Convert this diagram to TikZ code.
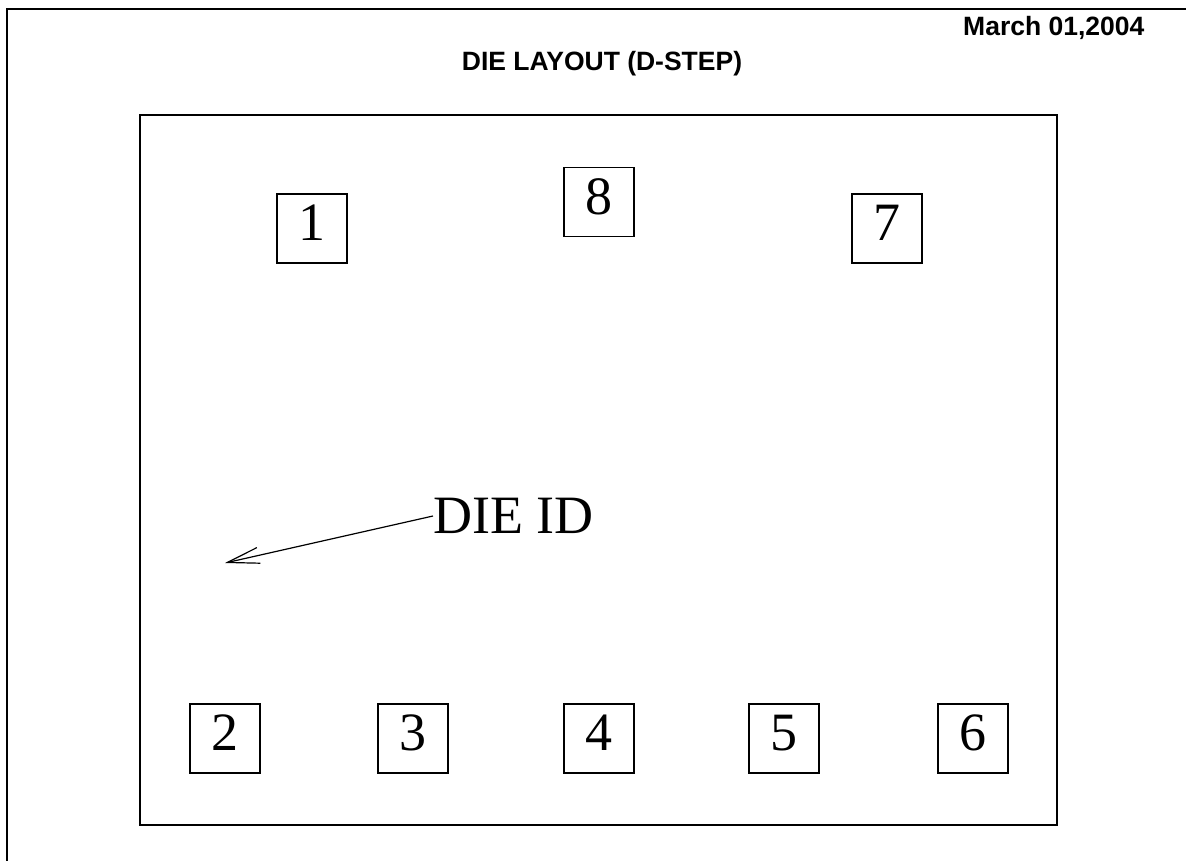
\documentclass[tikz,border=0pt]{standalone}
\usepackage{fontspec}
\setmainfont{Liberation Serif}
\newfontfamily\headfont{Liberation Sans}
\usetikzlibrary{arrows.meta}
\tikzset{
  frame/.style={line width=2.5pt},
  die/.style={line width=1.5pt},
  padbox/.style={draw, line width=1.5pt, minimum width=70pt, minimum height=69pt,
    inner sep=0pt, text depth=11pt, font=\fontsize{54}{54}\selectfont},
  headtext/.style={inner sep=0pt, font=\headfont\bfseries\fontsize{26.5}{26.5}\selectfont},
  idtext/.style={inner sep=0pt, anchor=west, font=\fontsize{54}{54}\selectfont},
  idarrow/.style={line width=1.2pt, -{Straight Barb[length=32pt,width=16pt,line width=1.2pt]}}
}
\begin{document}
\begin{tikzpicture}[x=1pt,y=-1pt]
\useasboundingbox (0,0) rectangle (1186,861);
% outer frame (top and left edges)
\draw[frame] (7,861) -- (7,9) -- (1186,9);
% headings
\node[headtext, anchor=base west] (date) at (963,36) {March 01,2004};
\node[headtext, anchor=base] (title) at (602,71) {DIE LAYOUT (D-STEP)};
% die outline
\draw[die] (140,115) rectangle (1057,825);
% pads
\node[padbox] (p1) at (312,228.5) {1};
\node[padbox] (p8) at (599,202) {8};
\node[padbox] (p7) at (887,228.5) {7};
\node[padbox] (p2) at (225,738.5) {2};
\node[padbox] (p3) at (413,738.5) {3};
\node[padbox] (p4) at (599,738.5) {4};
\node[padbox] (p5) at (784,738.5) {5};
\node[padbox] (p6) at (973,738.5) {6};
% die id
\node[idtext] (id) at (433,516) {DIE ID};
\coordinate (idtip) at (225,563);
\draw[idarrow] (id.west) -- (idtip);
\end{tikzpicture}
\end{document}
